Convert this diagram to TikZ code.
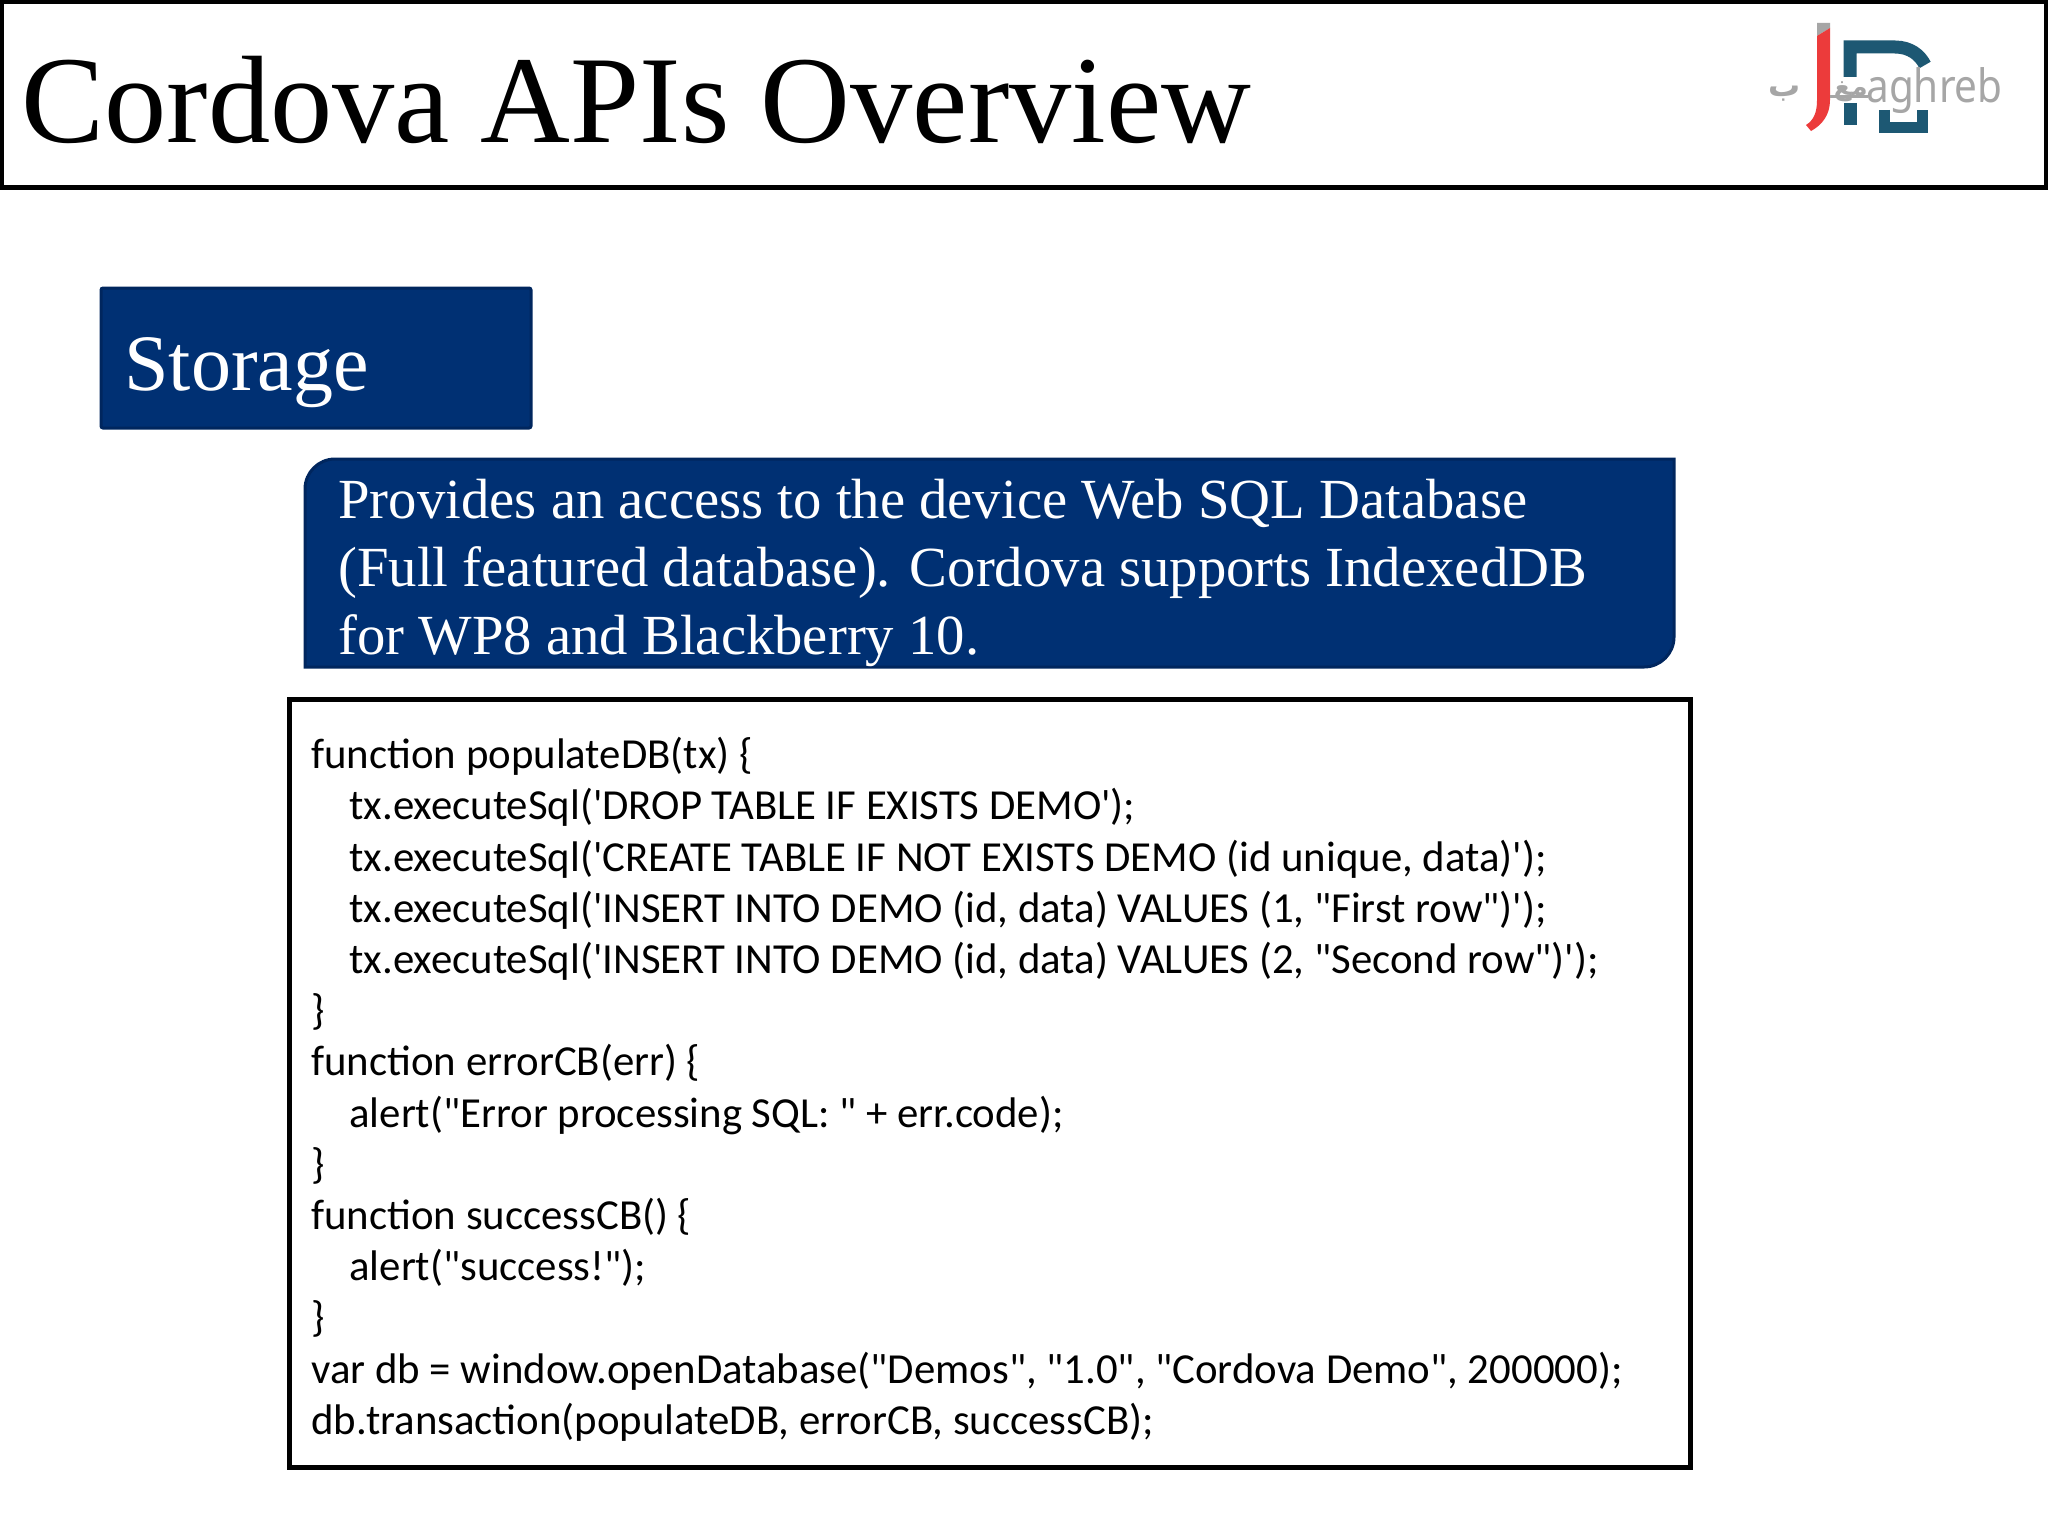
\documentclass[tikz,border=0pt]{standalone}
\usepackage{fontspec}
\setmainfont{Liberation Serif}
\newfontfamily\codefont{Carlito}
\newfontfamily\logofont{Noto Sans}
\newfontfamily\arabicfont[Script=Arabic]{DejaVu Sans}
\TeXXeTstate=1
\definecolor{navyfill}{HTML}{003073}
\definecolor{navyedge}{HTML}{00265E}
\definecolor{logored}{HTML}{EC3B3B}
\definecolor{logoteal}{HTML}{1D5873}
\definecolor{logogray}{HTML}{A6A6A6}
\tikzset{
  navybox/.style={fill=navyfill,draw=navyedge,line width=1.5pt},
  framebox/.style={draw=black,line width=2.5pt,fill=white},
  logotext/.style={inner sep=0pt,text=logogray}
}
\begin{document}
\begin{tikzpicture}[x=0.5pt,y=-0.5pt]
    % constants
    \def\pageW{2048}
    \def\pageH{1536}
    \useasboundingbox (0,0) rectangle (\pageW,\pageH);
    % title
    \draw [framebox] (1.5,1.5) rectangle (2046.5,187.5);
    \node [anchor=base west,inner sep=0pt,font=\fontsize{62.2}{62.2}\selectfont] (title) at (21,142) {Cordova APIs Overview};
    % logo
    \fill [logogray] (1817,23) -- (1830,23) -- (1830,28) -- (1817,36) -- cycle;
    \fill [logored] (1817,36) -- (1830,28) -- (1830,100) .. controls (1830,115) and (1822,125) .. (1811,131) -- (1806,125) .. controls (1814,120) and (1817,112) .. (1817,100) -- cycle;
    \draw [logoteal,line width=6.5pt] (1850,77) -- (1850,47) -- (1895,47) .. controls (1910,47) and (1920,55) .. (1925,65);
    \draw [logoteal,line width=6.5pt] (1850,103) -- (1850,125);
    \draw [logoteal,line width=5.5pt] (1884,110) -- (1884,127) -- (1922,127) -- (1922,110);
    \node [logotext,anchor=base west,xscale=0.88,font=\logofont\bfseries\fontsize{23}{23}\selectfont] (logoname) at (1866,103) {aghreb};
    \draw [logogray,line width=1.5pt] (1830,97) -- (1868,97);
    \node [logotext,anchor=base east,font=\arabicfont\bfseries\fontsize{16}{16}\selectfont] (logoba) at (1801,97) {\beginR ب\endR};
    \node [logotext,anchor=base east,font=\arabicfont\bfseries\fontsize{13}{13}\selectfont] (logomeem) at (1868,96) {\beginR مغ\endR};
    % storage heading
    \draw [navybox,rounded corners=1pt] (101,288) rectangle (531,428);
    \node [anchor=base west,inner sep=0pt,text=white,font=\fontsize{40}{40}\selectfont] (storage) at (124,390) {Storage};
    % description box
    \draw [navybox] (305,667) [rounded corners=15pt] -- (305,459) [sharp corners] -- (1674,459) [rounded corners=15pt] -- (1674,667) [sharp corners] -- cycle;
    \node [anchor=north west,inner sep=0pt,text=white,align=left,font=\fontsize{28.35}{34}\selectfont] (desc) at (338,479) {Provides an access to the device Web SQL Database\\(Full featured database). Cordova supports IndexedDB\\for WP8 and Blackberry 10.};
    % code box
    \draw [framebox] (289,699) rectangle (1690,1467);
    \node [anchor=north west,inner sep=0pt,align=left,font=\codefont\fontsize{21.4}{25.6}\selectfont] (code) at (311,737) {function populateDB(tx) \{\\
\hspace*{19pt}tx.executeSql('DROP TABLE IF EXISTS DEMO');\\
\hspace*{19pt}tx.executeSql('CREATE TABLE IF NOT EXISTS DEMO (id unique, data)');\\
\hspace*{19pt}tx.executeSql('INSERT INTO DEMO (id, data) VALUES (1, "First row")');\\
\hspace*{19pt}tx.executeSql('INSERT INTO DEMO (id, data) VALUES (2, "Second row")');\\
\}\\
function errorCB(err) \{\\
\hspace*{19pt}alert("Error processing SQL: " + err.code);\\
\}\\
function successCB() \{\\
\hspace*{19pt}alert("success!");\\
\}\\
var db = window.openDatabase("Demos", "1.0", "Cordova Demo", 200000);\\
db.transaction(populateDB, errorCB, successCB);};
\end{tikzpicture}
\end{document}
